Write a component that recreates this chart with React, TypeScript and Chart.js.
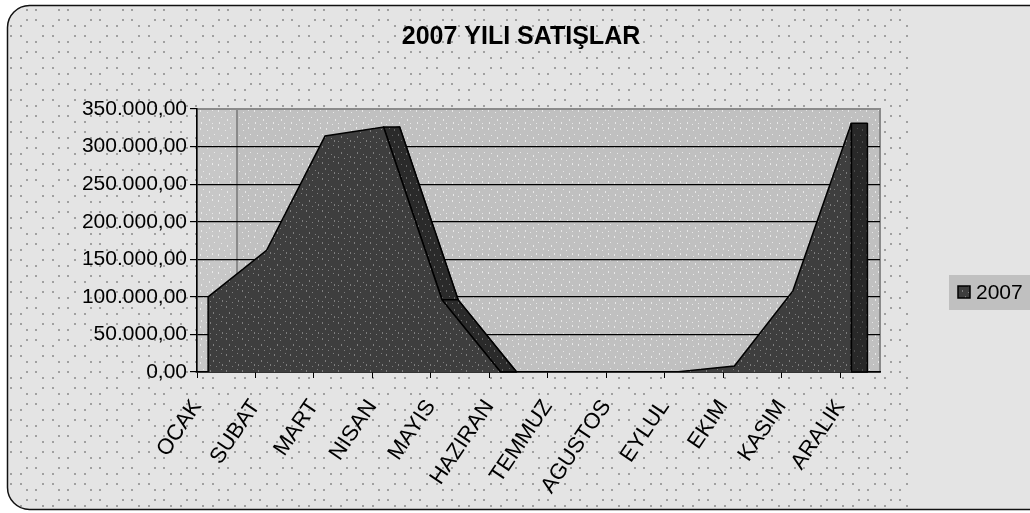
import React, { useEffect, useRef } from 'react';
import { Chart, registerables } from 'chart.js';

Chart.register(...registerables);

const chartTitle = '2007 YILI SATIŞLAR';
const seriesLabel = '2007';
const months = ['OCAK', 'SUBAT', 'MART', 'NISAN', 'MAYIS', 'HAZIRAN', 'TEMMUZ', 'AGUSTOS', 'EYLUL', 'EKIM', 'KASIM', 'ARALIK'];
const sales2007 = [100000, 162000, 314000, 326000, 96000, 0, 0, 0, 0, 8000, 108000, 331000];
const yMax = 350000;
const yStep = 50000;

const FONT = "'Liberation Sans', Arial, sans-serif";
const W = 1030;
const H = 513;
const DEPTH = 0.275; // depth of the 3D area, in category units
const LABEL_SHIFT = 0.19; // category label offset from point

function trFormat(v: number): string {
  const s = Math.round(v).toString().replace(/\B(?=(\d{3})+(?!\d))/g, '.');
  return s + ',00';
}

function makePattern(
  bg: string,
  dot: string,
  size: number,
  dots: [number, number, number, number][]
): CanvasPattern | string {
  const c = document.createElement('canvas');
  c.width = size;
  c.height = size;
  const g = c.getContext('2d');
  if (!g) return bg;
  g.fillStyle = bg;
  g.fillRect(0, 0, size, size);
  g.fillStyle = dot;
  dots.forEach(([x, y, w, h]) => g.fillRect(x, y, w, h));
  const p = g.createPattern(c, 'repeat');
  return p || bg;
}

export default function App() {
  const ref = useRef<HTMLCanvasElement | null>(null);

  useEffect(() => {
    document.body.style.margin = '0';
    const canvas = ref.current;
    if (!canvas) return;

    const bgDots = makePattern('#e4e4e4', '#a0a0a0', 32, [
      [3, 9, 2, 2], [26, 9, 2, 2], [3, 19, 2, 2], [26, 19, 2, 2],
      [10, 25, 2, 2], [20, 25, 2, 2], [10, 3, 2, 2], [20, 3, 2, 2],
    ]);
    const wallDots = makePattern('#c0c0c0', '#e8e8e8', 18, [
      [2, 2, 1, 2], [9, 4, 1, 1], [14, 1, 1, 2], [5, 9, 1, 1], [11, 11, 1, 2],
      [16, 8, 1, 1], [3, 14, 1, 2], [8, 16, 1, 1], [14, 15, 1, 1],
    ]);
    const frontDots = makePattern('#3e3e3e', '#7e7e7e', 16, [
      [2, 2, 1, 2], [8, 4, 1, 1], [13, 1, 1, 1], [5, 8, 1, 2], [11, 10, 1, 1],
      [2, 13, 1, 1], [8, 14, 1, 1], [14, 12, 1, 2],
    ]);
    const backDots = makePattern('#2a2a2a', '#646464', 12, [
      [2, 2, 1, 2], [8, 3, 1, 1], [5, 8, 1, 1], [10, 9, 1, 2],
    ]);

    const backgroundPlugin = {
      id: 'bgPlugin',
      beforeDraw(chart: any) {
        const ctx = chart.ctx as CanvasRenderingContext2D;
        const ca = chart.chartArea;
        ctx.save();
        ctx.fillStyle = '#ffffff';
        ctx.fillRect(0, 0, W, H);
        // outer rounded frame
        ctx.beginPath();
        (ctx as any).roundRect(7.5, 5.5, 1045, 504, 22);
        ctx.fillStyle = '#e4e4e4';
        ctx.fill();
        ctx.save();
        ctx.clip();
        ctx.beginPath();
        ctx.rect(0, 0, 908, H);
        ctx.fillStyle = bgDots as any;
        ctx.fill();
        ctx.restore();
        ctx.beginPath();
        (ctx as any).roundRect(7.5, 5.5, 1045, 504, 22);
        ctx.lineWidth = 1.5;
        ctx.strokeStyle = '#111';
        ctx.stroke();
        // back wall
        ctx.fillStyle = wallDots as any;
        ctx.fillRect(ca.left, ca.top, ca.right - ca.left, ca.bottom - ca.top);
        ctx.fillStyle = 'rgba(255,255,255,0.12)';
        ctx.fillRect(ca.left, ca.top, 40, ca.bottom - ca.top);
        ctx.strokeStyle = '#8a8a8a';
        ctx.lineWidth = 2;
        ctx.beginPath();
        ctx.moveTo(ca.left + 40, ca.top);
        ctx.lineTo(ca.left + 40, ca.bottom);
        ctx.stroke();
        ctx.strokeRect(ca.left, ca.top, ca.right - ca.left, ca.bottom - ca.top);
        ctx.restore();
      },
      afterDatasetDraw(chart: any, args: any) {
        const ctx = chart.ctx as CanvasRenderingContext2D;
        const y0 = chart.scales.y.getPixelForValue(0);
        if (args.index === 1) {
          // side faces joining the front face to the back face
          const front = chart.getDatasetMeta(0).data;
          const back = args.meta.data;
          ctx.save();
          ctx.fillStyle = backDots as any;
          ctx.strokeStyle = '#000';
          ctx.lineWidth = 1.5;
          ctx.lineJoin = 'round';
          for (let i = 0; i < front.length - 1; i++) {
            const a = front[i], b = front[i + 1], c = back[i + 1], d = back[i];
            if (b.y <= a.y) continue; // only falling segments show a side face
            ctx.beginPath();
            ctx.moveTo(a.x, a.y);
            ctx.lineTo(b.x, b.y);
            ctx.lineTo(c.x, c.y);
            ctx.lineTo(d.x, d.y);
            ctx.closePath();
            ctx.fill();
            ctx.stroke();
          }
          const fl = front[front.length - 1];
          const bl = back[back.length - 1];
          ctx.beginPath();
          ctx.moveTo(fl.x, fl.y);
          ctx.lineTo(bl.x, bl.y);
          ctx.lineTo(bl.x, y0);
          ctx.lineTo(fl.x, y0);
          ctx.closePath();
          ctx.fillStyle = '#262626';
          ctx.fill();
          ctx.fillStyle = backDots as any;
          ctx.globalAlpha = 0.6;
          ctx.fill();
          ctx.globalAlpha = 1;
          ctx.stroke();
          ctx.restore();
          return;
        }
        const pts = args.meta.data;
        if (!pts || !pts.length) return;
        ctx.save();
        ctx.strokeStyle = '#000';
        ctx.lineWidth = 1.5;
        ctx.beginPath();
        const first = pts[0];
        const last = pts[pts.length - 1];
        ctx.moveTo(first.x, first.y);
        ctx.lineTo(first.x, y0);
        ctx.moveTo(last.x, last.y);
        ctx.lineTo(last.x, y0);
        ctx.stroke();
        ctx.restore();
      },
      afterDraw(chart: any) {
        const ctx = chart.ctx as CanvasRenderingContext2D;
        ctx.save();
        // title
        ctx.fillStyle = '#000';
        ctx.font = `bold 25px ${FONT}`;
        ctx.textAlign = 'center';
        ctx.textBaseline = 'middle';
        ctx.fillText(chartTitle, 521, 37);
        // legend
        ctx.fillStyle = '#c0c0c0';
        ctx.fillRect(949, 275, 90, 35);
        ctx.fillStyle = frontDots as any;
        ctx.fillRect(958, 286, 12, 12);
        ctx.strokeStyle = '#000';
        ctx.lineWidth = 1.5;
        ctx.strokeRect(958, 286, 12, 12);
        ctx.fillStyle = '#000';
        ctx.font = `21px ${FONT}`;
        ctx.textAlign = 'left';
        ctx.textBaseline = 'middle';
        ctx.fillText(seriesLabel, 976, 293);
        ctx.restore();
      },
    };

    const frontData = sales2007.map((v, i) => ({ x: i, y: v }));
    const backData = sales2007.map((v, i) => ({ x: i + DEPTH, y: v }));

    const chart = new Chart(canvas, {
      type: 'line',
      data: {
        datasets: [
          {
            label: seriesLabel,
            data: frontData,
            fill: 'origin',
            backgroundColor: frontDots as any,
            borderColor: '#000',
            borderWidth: 1.5,
            pointRadius: 0,
            tension: 0,
          },
          {
            label: seriesLabel + ' depth',
            data: backData,
            fill: 'origin',
            backgroundColor: backDots as any,
            borderColor: '#000',
            borderWidth: 1.5,
            pointRadius: 0,
            tension: 0,
          },
        ],
      },
      options: {
        responsive: false,
        animation: false,
        layout: { padding: { top: 109, right: 150, left: 0, bottom: 0 } },
        plugins: {
          legend: { display: false },
          title: { display: false },
          tooltip: { enabled: false },
        },
        scales: {
          x: {
            type: 'linear',
            min: -LABEL_SHIFT,
            max: 11.49,
            afterBuildTicks(scale: any) {
              scale.ticks = months.map((_, i) => ({ value: i - LABEL_SHIFT }));
            },
            afterFit(scale: any) {
              scale.height = 141;
            },
            border: { color: '#000', width: 1.5 },
            grid: { drawOnChartArea: false, drawTicks: true, tickLength: 6, color: '#000' },
            ticks: {
              autoSkip: false,
              maxRotation: 56,
              minRotation: 56,
              padding: 17,
              color: '#000',
              font: { family: FONT, size: 22 },
              callback: (_v: any, idx: number) => months[idx],
            },
          },
          y: {
            min: 0,
            max: yMax,
            afterFit(scale: any) {
              scale.width = 197;
            },
            border: { color: '#000', width: 1.5 },
            grid: {
              color: (c: any) => (c.tick && c.tick.value === yMax ? '#8a8a8a' : '#000'),
              tickColor: '#000',
              tickLength: 7,
              lineWidth: 1.2,
            },
            ticks: {
              stepSize: yStep,
              padding: 3,
              color: '#000',
              font: { family: FONT, size: 21 },
              callback: (v: any) => trFormat(Number(v)),
            },
          },
        },
      },
      plugins: [backgroundPlugin],
    } as any);

    return () => chart.destroy();
  }, []);

  return (
    <div style={{ width: W, height: H }}>
      <canvas ref={ref} width={W} height={H} style={{ width: W, height: H, display: 'block' }} />
    </div>
  );
}
